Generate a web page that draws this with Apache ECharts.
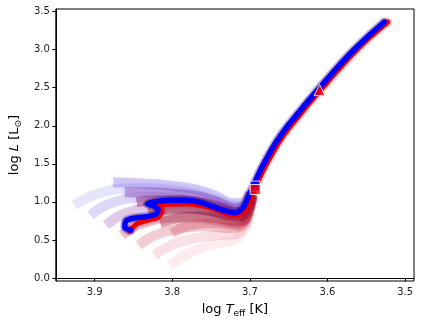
<!DOCTYPE html>
<html>
<head>
<meta charset="utf-8">
<script src="https://cdn.jsdelivr.net/npm/echarts@6/dist/echarts.min.js"></script>
<style>
  html, body { margin: 0; padding: 0; background: #fff; }
  #chart { width: 421px; height: 324px; }
</style>
</head>
<body>
<div id="chart"></div>
<script>
// HR diagram: log Teff vs log L, faint model tracks + best track

// axis ticks
const xTicks = [3.5, 3.6, 3.7, 3.8, 3.9];
const yTicks = [0, 0.5, 1.0, 1.5, 2.0, 2.5, 3.0, 3.5];

// main (blue) track
const bestTrack = [
  [3.8535, 0.628], [3.8611, 0.667], [3.8599, 0.746], [3.8497, 0.786], [3.8346, 0.805],
  [3.8219, 0.832], [3.8181, 0.891], [3.8244, 0.950], [3.8320, 0.976], [3.8219, 1.003],
  [3.8004, 1.022], [3.7839, 1.022], [3.7649, 0.996], [3.7459, 0.930], [3.7308, 0.878],
  [3.7206, 0.858], [3.7118, 0.891], [3.7067, 0.957], [3.7016, 1.075], [3.6953, 1.220],
  [3.6877, 1.391], [3.6789, 1.562], [3.6662, 1.786], [3.6535, 1.970], [3.6409, 2.128],
  [3.6282, 2.286], [3.6105, 2.496], [3.5903, 2.733], [3.5688, 2.970], [3.5473, 3.180],
  [3.5270, 3.364]
];

// second (red) track
const refTrack = [
  [3.855, 0.614], [3.845, 0.713], [3.831, 0.759], [3.818, 0.799], [3.813, 0.891],
  [3.819, 0.950], [3.812, 0.963], [3.784, 0.975], [3.759, 0.945], [3.740, 0.890],
  [3.721, 0.822], [3.711, 0.850], [3.7025, 0.940], [3.6975, 1.075], [3.6915, 1.220],
  [3.6839, 1.391], [3.6751, 1.562], [3.6624, 1.786], [3.6497, 1.970], [3.6371, 2.128],
  [3.6244, 2.286], [3.6067, 2.496], [3.5865, 2.733], [3.5650, 2.970], [3.5435, 3.180],
  [3.5222, 3.364]
];

// faint sample tracks, upper fan
const trackU1 = [[3.8763, 1.259], [3.8472, 1.246], [3.8092, 1.220], [3.7713, 1.167], [3.7434, 1.075], [3.7232, 0.983], [3.7080, 0.996], [3.7004, 1.128]];
const trackU2 = [[3.8611, 1.128], [3.8346, 1.128], [3.8029, 1.114], [3.7687, 1.075], [3.7409, 0.996], [3.7206, 0.917], [3.7067, 0.957], [3.6991, 1.114]];
const trackU3 = [[3.8459, 0.996], [3.8219, 1.022], [3.7902, 1.022], [3.7586, 0.983], [3.7333, 0.917], [3.7168, 0.864], [3.7042, 0.930], [3.6978, 1.114]];
const trackU4 = [[3.8308, 0.864], [3.8092, 0.904], [3.7776, 0.917], [3.7485, 0.878], [3.7270, 0.825], [3.7118, 0.812], [3.7016, 0.904], [3.6966, 1.088]];
const trackU5 = [[3.8156, 0.720], [3.7940, 0.786], [3.7649, 0.812], [3.7396, 0.786], [3.7206, 0.746], [3.7080, 0.759], [3.7016, 0.878], [3.6978, 1.062]];
const trackU6 = [[3.8004, 0.588], [3.7814, 0.680], [3.7548, 0.720], [3.7308, 0.707], [3.7156, 0.693], [3.7054, 0.772], [3.7004, 0.917], [3.6966, 1.075]];

// faint sample tracks, lower fan
const trackL1 = [[3.9257, 0.957], [3.9042, 1.075], [3.8725, 1.167], [3.8346, 1.180], [3.7966, 1.154], [3.7586, 1.075], [3.7308, 0.970], [3.7130, 0.943], [3.7029, 1.022], [3.6978, 1.154]];
const trackL2 = [[3.9054, 0.825], [3.8852, 0.957], [3.8535, 1.049], [3.8156, 1.062], [3.7776, 1.022], [3.7459, 0.943], [3.7232, 0.864], [3.7080, 0.891], [3.6991, 1.062]];
const trackL3 = [[3.8852, 0.693], [3.8662, 0.825], [3.8346, 0.917], [3.7966, 0.930], [3.7586, 0.891], [3.7308, 0.825], [3.7130, 0.799], [3.7042, 0.904], [3.6978, 1.088]];
const trackL4 = [[3.8649, 0.562], [3.8447, 0.693], [3.8118, 0.786], [3.7738, 0.799], [3.7421, 0.759], [3.7181, 0.720], [3.7067, 0.759], [3.7004, 0.917], [3.6966, 1.075]];
const trackL5 = [[3.8434, 0.430], [3.8219, 0.562], [3.7902, 0.654], [3.7548, 0.680], [3.7270, 0.654], [3.7105, 0.680], [3.7029, 0.825], [3.6991, 0.983]];
const trackL6 = [[3.8232, 0.299], [3.8016, 0.430], [3.7713, 0.522], [3.7421, 0.562], [3.7181, 0.575], [3.7054, 0.707], [3.7004, 0.864]];
const trackL7 = [[3.8029, 0.167], [3.7839, 0.299], [3.7561, 0.417], [3.7308, 0.470], [3.7156, 0.522], [3.7067, 0.641], [3.7016, 0.786]];

// observed points
const obsSquareBlue = [[3.6934, 1.207]];
const obsSquareRed = [[3.6932, 1.163]];
const obsTriangle = [[3.6102, 2.469]];

const fan = [
  { data: trackL1, color: 'rgba(110, 110, 235, 0.16)' },
  { data: trackL2, color: 'rgba(90, 60, 210, 0.18)' },
  { data: trackL3, color: 'rgba(120, 20, 150, 0.2)' },
  { data: trackL4, color: 'rgba(150, 0, 70, 0.22)' },
  { data: trackL5, color: 'rgba(190, 0, 40, 0.18)' },
  { data: trackL6, color: 'rgba(220, 30, 60, 0.13)' },
  { data: trackL7, color: 'rgba(235, 80, 100, 0.1)' },
  { data: trackU1, color: 'rgba(80, 50, 220, 0.24)' },
  { data: trackU2, color: 'rgba(100, 20, 170, 0.3)' },
  { data: trackU3, color: 'rgba(120, 0, 90, 0.36)' },
  { data: trackU4, color: 'rgba(130, 0, 40, 0.38)' },
  { data: trackU5, color: 'rgba(160, 0, 30, 0.32)' },
  { data: trackU6, color: 'rgba(200, 20, 40, 0.22)' }
];

const chart = echarts.init(document.getElementById('chart'));

const series = fan.map(t => ({
  type: 'line',
  data: t.data,
  smooth: 0.35,
  symbol: 'none',
  silent: true,
  lineStyle: { color: t.color, width: 10, cap: 'butt', join: 'round', shadowBlur: 5, shadowColor: t.color },
  z: 1
}));

series.push(
  {
    type: 'line', data: bestTrack, smooth: 0.3, symbol: 'none', silent: true,
    lineStyle: { color: 'rgba(60, 0, 140, 0.35)', width: 9, cap: 'round' }, z: 2
  },
  {
    type: 'line', data: refTrack, smooth: 0.3, symbol: 'none', silent: true,
    lineStyle: { color: 'rgba(230, 0, 20, 0.2)', width: 9, cap: 'round' }, z: 2
  },
  {
    type: 'line', data: refTrack, smooth: 0.3, symbol: 'none',
    lineStyle: { color: '#ee0000', width: 5, cap: 'round', join: 'round' }, z: 3
  },
  {
    type: 'line', data: bestTrack, smooth: 0.3, symbol: 'none',
    lineStyle: { color: '#0000ff', width: 5.5, cap: 'round', join: 'round' }, z: 4
  },
  {
    type: 'scatter', data: obsSquareBlue, symbol: 'rect', symbolSize: 10,
    itemStyle: { color: '#0000ff', borderColor: '#fff', borderWidth: 1 }, z: 5
  },
  {
    type: 'scatter', data: obsSquareRed, symbol: 'rect', symbolSize: 10,
    itemStyle: { color: '#ff0000', borderColor: '#fff', borderWidth: 1 }, z: 6
  },
  {
    type: 'scatter', data: obsTriangle, symbol: 'triangle', symbolSize: 11,
    itemStyle: { color: '#ff0000', borderColor: '#fff', borderWidth: 1 }, z: 6
  }
);

const font = 'DejaVu Sans';

chart.setOption({
  animation: false,
  grid: {
    left: 49, right: 7, top: 9, bottom: 43,
    show: true, borderColor: '#000', borderWidth: 1, backgroundColor: 'transparent'
  },
  xAxis: {
    type: 'value',
    inverse: true,
    min: 3.4886,
    max: 3.95,
    name: '{a|log }{b|T}{c|eff}{a| [K]}',
    nameLocation: 'middle',
    nameGap: 20,
    nameTextStyle: {
      rich: {
        a: { fontFamily: font, fontSize: 13, color: '#000' },
        b: { fontFamily: font, fontSize: 13, fontStyle: 'italic', color: '#000' },
        c: { fontFamily: font, fontSize: 9, color: '#000', padding: [8, 0, 0, 0] }
      }
    },
    splitLine: { show: false },
    axisLine: { show: true, lineStyle: { color: '#000' } },
    axisTick: { show: true, length: 3.5, lineStyle: { color: '#000' }, customValues: xTicks },
    axisLabel: {
      fontFamily: font, fontSize: 10, color: '#222', margin: 6,
      customValues: xTicks,
      formatter: v => v.toFixed(1)
    }
  },
  yAxis: {
    type: 'value',
    min: -0.04,
    max: 3.535,
    name: '{a|log }{b|L}{a| [L}{c|⊙}{a|]}',
    nameLocation: 'middle',
    nameGap: 24,
    nameRotate: 90,
    nameTextStyle: {
      rich: {
        a: { fontFamily: font, fontSize: 13, color: '#000' },
        b: { fontFamily: font, fontSize: 13, fontStyle: 'italic', color: '#000' },
        c: { fontFamily: font, fontSize: 9, color: '#000', padding: [8, 0, 0, 0] }
      }
    },
    splitLine: { show: false },
    axisLine: { show: true, lineStyle: { color: '#000' } },
    axisTick: { show: true, length: 3.5, lineStyle: { color: '#000' }, customValues: yTicks },
    axisLabel: {
      fontFamily: font, fontSize: 10, color: '#222', margin: 6,
      customValues: yTicks,
      formatter: v => v.toFixed(1)
    }
  },
  series: series
});
</script>
</body>
</html>
